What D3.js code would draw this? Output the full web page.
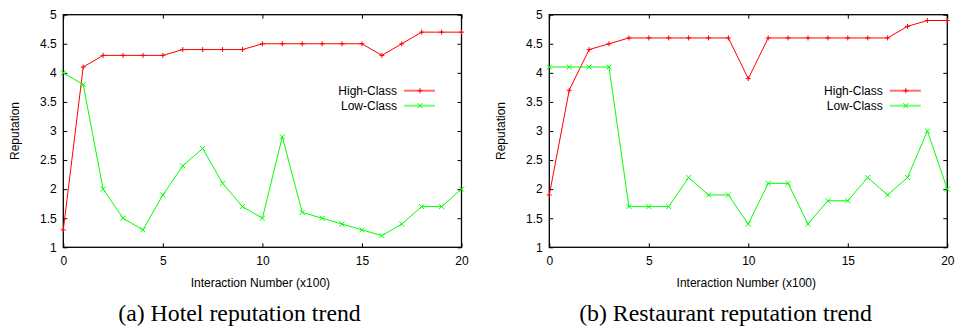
<!DOCTYPE html>
<html><head><meta charset="utf-8">
<script src="https://cdn.jsdelivr.net/npm/d3@7"></script>
<style>body{margin:0;background:#fff}svg{display:block}</style>
</head><body>
<svg id="c" width="957" height="329"></svg>
<script>
const xs = d3.range(0, 21);
const hotelHigh = [1.3,4.1,4.3,4.3,4.3,4.3,4.4,4.4,4.4,4.4,4.5,4.5,4.5,4.5,4.5,4.5,4.3,4.5,4.7,4.7,4.7];
const hotelLow  = [4.0,3.8,2.0,1.5,1.3,1.9,2.4,2.7,2.1,1.7,1.5,2.9,1.6,1.5,1.4,1.3,1.2,1.4,1.7,1.7,2.0];
const restHigh  = [1.9,3.7,4.4,4.5,4.6,4.6,4.6,4.6,4.6,4.6,3.9,4.6,4.6,4.6,4.6,4.6,4.6,4.6,4.8,4.9,4.9];
const restLow   = [4.1,4.1,4.1,4.1,1.7,1.7,1.7,2.2,1.9,1.9,1.4,2.1,2.1,1.4,1.8,1.8,2.2,1.9,2.2,3.0,2.0];
const xTicks = [0,5,10,15,20];
const yTicks = [1,1.5,2,2.5,3,3.5,4,4.5,5];
const seriesNames = ["High-Class","Low-Class"];
const seriesColors = ["#ff0000","#00ff00"];
const legendColors = ["#ff7070","#70ff70"];
const captions = ["(a) Hotel reputation trend","(b) Restaurant reputation trend"];
const panels = [
  {left:63.3, right:461.5, high:hotelHigh, low:hotelLow, caption:captions[0], capX:239.5},
  {left:549.3, right:947.3, high:restHigh, low:restLow, caption:captions[1], capX:725.5}
];
const svg = d3.select("#c");
const plotTop = 14.7, plotBottom = 247.3;
const font = "'Liberation Sans', Arial, Helvetica, sans-serif";

panels.forEach(p => {
  const g = svg.append("g");
  const x = d3.scaleLinear().domain([0,20]).range([p.left,p.right]);
  const y = d3.scaleLinear().domain([1,5]).range([plotBottom,plotTop]);
  const tl = 4;
  const axB = d3.axisBottom(x).tickValues(xTicks).tickSizeInner(-tl).tickSizeOuter(0).tickPadding(9).tickFormat(d3.format("d"));
  const axT = d3.axisTop(x).tickValues(xTicks).tickSizeInner(-tl).tickSizeOuter(0).tickFormat("");
  const axL = d3.axisLeft(y).tickValues(yTicks).tickSizeInner(-tl).tickSizeOuter(0).tickPadding(6.5).tickFormat(d => String(d));
  const axR = d3.axisRight(y).tickValues(yTicks).tickSizeInner(-tl).tickSizeOuter(0).tickFormat("");
  [[axB,`translate(0,${plotBottom})`],[axT,`translate(0,${plotTop})`],[axL,`translate(${p.left},0)`],[axR,`translate(${p.right},0)`]].forEach(([a,t]) => {
    const ag = g.append("g").attr("transform",t).call(a);
    ag.select(".domain").remove();
    ag.selectAll("line").attr("stroke","#000").attr("stroke-width",1);
    ag.selectAll("text").attr("font-family",font).attr("font-size",12).attr("fill","#000");
  });
  g.append("rect").attr("x",p.left).attr("y",plotTop).attr("width",p.right-p.left).attr("height",plotBottom-plotTop)
    .attr("fill","none").attr("stroke","#000").attr("stroke-width",1.3);

  const line = d3.line().x((d,i)=>x(xs[i])).y(d=>y(d));
  const drawSeries = (vals, color, marker) => {
    g.append("path").datum(vals).attr("d",line).attr("fill","none").attr("stroke",color).attr("stroke-width",1);
    const m = 2.5;
    vals.forEach((v,i) => {
      const cx = x(xs[i]), cy = y(v);
      if (marker === "plus") {
        g.append("path").attr("d",`M${cx-m},${cy}H${cx+m}M${cx},${cy-m}V${cy+m}`).attr("stroke",color).attr("stroke-width",1);
      } else {
        g.append("path").attr("d",`M${cx-m},${cy-m}L${cx+m},${cy+m}M${cx-m},${cy+m}L${cx+m},${cy-m}`).attr("stroke",color).attr("stroke-width",1);
      }
    });
  };
  drawSeries(p.high, seriesColors[0], "plus");
  drawSeries(p.low, seriesColors[1], "cross");

  const lx = p.right - 57.5;
  seriesNames.forEach((n,i) => {
    const ly = 90.7 + i*15;
    g.append("text").attr("x",lx-7).attr("y",ly).attr("dy","0.35em").attr("text-anchor","end")
      .attr("font-family",font).attr("font-size",12).text(n);
    g.append("line").attr("x1",lx).attr("x2",lx+31).attr("y1",ly).attr("y2",ly).attr("stroke",legendColors[i]).attr("stroke-width",2);
    const cx = lx+16, m=2.5;
    if (i===0) g.append("path").attr("d",`M${cx-m},${ly}H${cx+m}M${cx},${ly-m}V${ly+m}`).attr("stroke",seriesColors[i]);
    else g.append("path").attr("d",`M${cx-m},${ly-m}L${cx+m},${ly+m}M${cx-m},${ly+m}L${cx+m},${ly-m}`).attr("stroke",seriesColors[i]);
  });

  g.append("text").attr("x",(p.left+p.right)/2 - 2).attr("y",287).attr("text-anchor","middle")
    .attr("font-family",font).attr("font-size",12).text("Interaction Number (x100)");
  g.append("text").attr("transform",`translate(${p.left-44},${(plotTop+plotBottom)/2}) rotate(-90)`).attr("text-anchor","middle")
    .attr("font-family",font).attr("font-size",12).text("Reputation");
  g.append("text").attr("x",p.capX).attr("y",321).attr("text-anchor","middle")
    .attr("font-family","'Liberation Serif','Times New Roman',serif").attr("font-size",23.8).text(p.caption);
});
</script>
</body></html>
